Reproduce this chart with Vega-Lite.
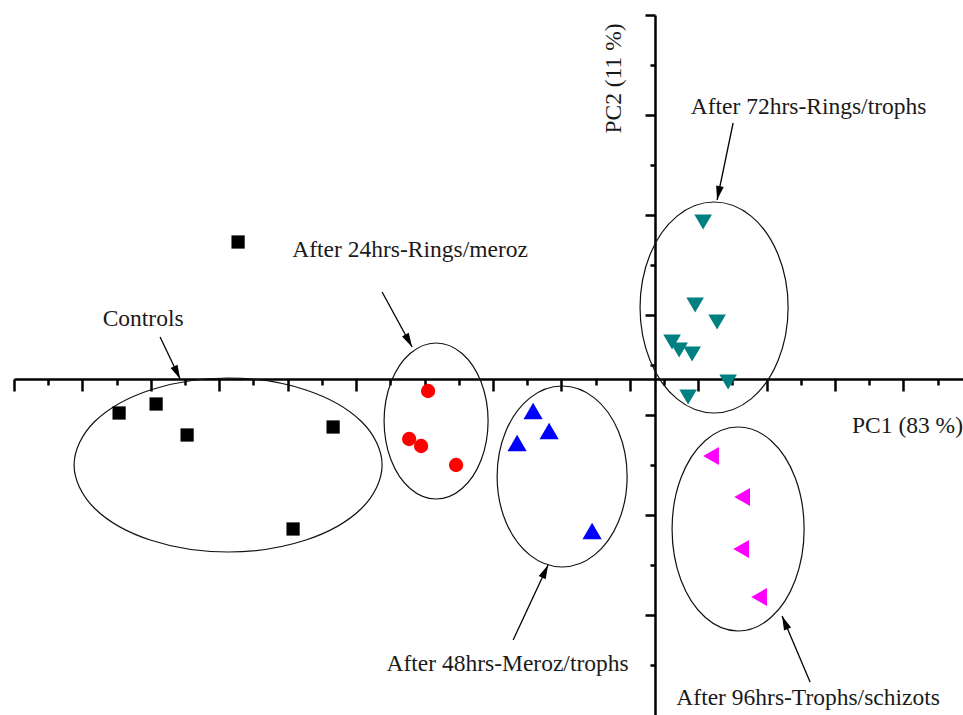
{
  "$schema": "https://vega.github.io/schema/vega-lite/v6.json",
  "width": 949,
  "height": 700,
  "autosize": {"type": "none"},
  "padding": {"left": 14, "top": 15, "right": 0, "bottom": 0},
  "background": "white",
  "config": {"view": {"stroke": null}},
  "datasets": {
    "points": [
      {"group": "Controls", "x": -6.095, "y": 1.37},
      {"group": "Controls", "x": -7.834, "y": -0.34},
      {"group": "Controls", "x": -7.293, "y": -0.25},
      {"group": "Controls", "x": -6.84, "y": -0.56},
      {"group": "Controls", "x": -4.706, "y": -0.48},
      {"group": "Controls", "x": -5.291, "y": -1.5},
      {"group": "24hrs", "x": -3.318, "y": -0.12},
      {"group": "24hrs", "x": -3.595, "y": -0.6},
      {"group": "24hrs", "x": -3.42, "y": -0.67},
      {"group": "24hrs", "x": -2.909, "y": -0.86},
      {"group": "48hrs", "x": -1.783, "y": -0.32},
      {"group": "48hrs", "x": -1.549, "y": -0.52},
      {"group": "48hrs", "x": -2.017, "y": -0.64},
      {"group": "48hrs", "x": -0.921, "y": -1.52},
      {"group": "72hrs", "x": 0.702, "y": 1.57},
      {"group": "72hrs", "x": 0.585, "y": 0.74},
      {"group": "72hrs", "x": 0.906, "y": 0.57},
      {"group": "72hrs", "x": 0.248, "y": 0.37},
      {"group": "72hrs", "x": 0.351, "y": 0.29},
      {"group": "72hrs", "x": 0.541, "y": 0.25},
      {"group": "72hrs", "x": 1.067, "y": -0.03},
      {"group": "72hrs", "x": 0.482, "y": -0.18},
      {"group": "96hrs", "x": 0.818, "y": -0.77},
      {"group": "96hrs", "x": 1.272, "y": -1.18},
      {"group": "96hrs", "x": 1.257, "y": -1.7},
      {"group": "96hrs", "x": 1.52, "y": -2.18}
    ],
    "ellipses": [
      {"grp": "Controls", "i": 0, "x": -3.99, "y": -0.86},
      {"grp": "Controls", "i": 1, "x": -4.292, "y": -0.425},
      {"grp": "Controls", "i": 2, "x": -5.115, "y": -0.107},
      {"grp": "Controls", "i": 3, "x": -6.241, "y": 0.01},
      {"grp": "Controls", "i": 4, "x": -7.367, "y": -0.107},
      {"grp": "Controls", "i": 5, "x": -8.19, "y": -0.425},
      {"grp": "Controls", "i": 6, "x": -8.492, "y": -0.86},
      {"grp": "Controls", "i": 7, "x": -8.19, "y": -1.295},
      {"grp": "Controls", "i": 8, "x": -7.367, "y": -1.613},
      {"grp": "Controls", "i": 9, "x": -6.241, "y": -1.73},
      {"grp": "Controls", "i": 10, "x": -5.115, "y": -1.613},
      {"grp": "Controls", "i": 11, "x": -4.292, "y": -1.295},
      {"grp": "24hrs", "i": 0, "x": -2.441, "y": -0.42},
      {"grp": "24hrs", "i": 1, "x": -2.543, "y": -0.03},
      {"grp": "24hrs", "i": 2, "x": -2.821, "y": 0.255},
      {"grp": "24hrs", "i": 3, "x": -3.201, "y": 0.36},
      {"grp": "24hrs", "i": 4, "x": -3.581, "y": 0.255},
      {"grp": "24hrs", "i": 5, "x": -3.859, "y": -0.03},
      {"grp": "24hrs", "i": 6, "x": -3.961, "y": -0.42},
      {"grp": "24hrs", "i": 7, "x": -3.859, "y": -0.81},
      {"grp": "24hrs", "i": 8, "x": -3.581, "y": -1.095},
      {"grp": "24hrs", "i": 9, "x": -3.201, "y": -1.2},
      {"grp": "24hrs", "i": 10, "x": -2.821, "y": -1.095},
      {"grp": "24hrs", "i": 11, "x": -2.543, "y": -0.81},
      {"grp": "48hrs", "i": 0, "x": -0.409, "y": -0.975},
      {"grp": "48hrs", "i": 1, "x": -0.536, "y": -0.523},
      {"grp": "48hrs", "i": 2, "x": -0.884, "y": -0.191},
      {"grp": "48hrs", "i": 3, "x": -1.359, "y": -0.07},
      {"grp": "48hrs", "i": 4, "x": -1.834, "y": -0.191},
      {"grp": "48hrs", "i": 5, "x": -2.182, "y": -0.523},
      {"grp": "48hrs", "i": 6, "x": -2.309, "y": -0.975},
      {"grp": "48hrs", "i": 7, "x": -2.182, "y": -1.428},
      {"grp": "48hrs", "i": 8, "x": -1.834, "y": -1.759},
      {"grp": "48hrs", "i": 9, "x": -1.359, "y": -1.88},
      {"grp": "48hrs", "i": 10, "x": -0.884, "y": -1.759},
      {"grp": "48hrs", "i": 11, "x": -0.536, "y": -1.428},
      {"grp": "72hrs", "i": 0, "x": 1.944, "y": 0.715},
      {"grp": "72hrs", "i": 1, "x": 1.799, "y": 1.243},
      {"grp": "72hrs", "i": 2, "x": 1.403, "y": 1.629},
      {"grp": "72hrs", "i": 3, "x": 0.862, "y": 1.77},
      {"grp": "72hrs", "i": 4, "x": 0.321, "y": 1.629},
      {"grp": "72hrs", "i": 5, "x": -0.075, "y": 1.243},
      {"grp": "72hrs", "i": 6, "x": -0.22, "y": 0.715},
      {"grp": "72hrs", "i": 7, "x": -0.075, "y": 0.188},
      {"grp": "72hrs", "i": 8, "x": 0.321, "y": -0.199},
      {"grp": "72hrs", "i": 9, "x": 0.862, "y": -0.34},
      {"grp": "72hrs", "i": 10, "x": 1.403, "y": -0.199},
      {"grp": "72hrs", "i": 11, "x": 1.799, "y": 0.188},
      {"grp": "96hrs", "i": 0, "x": 2.178, "y": -1.5},
      {"grp": "96hrs", "i": 1, "x": 2.049, "y": -0.99},
      {"grp": "96hrs", "i": 2, "x": 1.696, "y": -0.617},
      {"grp": "96hrs", "i": 3, "x": 1.213, "y": -0.48},
      {"grp": "96hrs", "i": 4, "x": 0.731, "y": -0.617},
      {"grp": "96hrs", "i": 5, "x": 0.377, "y": -0.99},
      {"grp": "96hrs", "i": 6, "x": 0.248, "y": -1.5},
      {"grp": "96hrs", "i": 7, "x": 0.377, "y": -2.01},
      {"grp": "96hrs", "i": 8, "x": 0.731, "y": -2.383},
      {"grp": "96hrs", "i": 9, "x": 1.213, "y": -2.52},
      {"grp": "96hrs", "i": 10, "x": 1.696, "y": -2.383},
      {"grp": "96hrs", "i": 11, "x": 2.049, "y": -2.01}
    ],
    "arrows": [
      {"grp": "Controls", "xs": -7.235, "ys": 0.42, "x": -6.942, "y": 0.0},
      {"grp": "24hrs", "xs": -3.99, "ys": 0.87, "x": -3.552, "y": 0.32},
      {"grp": "72hrs", "xs": 1.14, "ys": 2.56, "x": 0.906, "y": 1.79},
      {"grp": "48hrs", "xs": -2.075, "ys": -2.61, "x": -1.564, "y": -1.86},
      {"grp": "96hrs", "xs": 2.265, "ys": -3.03, "x": 1.856, "y": -2.37}
    ],
    "labels": [
      {"label": "Controls", "x": -7.483, "y": 0.53},
      {"label": "After 24hrs-Rings/meroz", "x": -3.581, "y": 1.22},
      {"label": "After 72hrs-Rings/trophs", "x": 2.243, "y": 2.65},
      {"label": "After 48hrs-Meroz/trophs", "x": -2.156, "y": -2.92},
      {"label": "After 96hrs-Trophs/schizots", "x": 2.236, "y": -3.26}
    ]
  },
  "encoding": {
    "x": {
      "field": "x",
      "type": "quantitative",
      "scale": {"domain": [-9.37, 4.5], "nice": false, "zero": false},
      "axis": {
        "orient": "bottom",
        "offset": -336,
        "grid": false,
        "labels": false,
        "domainColor": "black",
        "domainWidth": 2.5,
        "tickColor": "black",
        "tickWidth": 2.5,
        "tickSize": {"condition": {"test": "round((datum.value + 9.37) * 2) % 2 === 0", "value": 12}, "value": 6},
        "values": [-9.37, -8.87, -8.37, -7.87, -7.37, -6.87, -6.37, -5.87, -5.37, -4.87, -4.37, -3.87, -3.37, -2.87, -2.37, -1.87, -1.37, -0.87, -0.37, 0.13, 0.63, 1.13, 1.63, 2.13, 2.63, 3.13, 3.63, 4.13],
        "title": "PC1 (83 %)",
        "titleX": 893,
        "titleY": 53,
        "titleAlign": "center",
        "titleBaseline": "alphabetic",
        "titleFont": "Liberation Serif",
        "titleFontSize": 23.5,
        "titleFontWeight": "normal",
        "titleColor": "#1a1a1a"
      }
    },
    "y": {
      "field": "y",
      "type": "quantitative",
      "scale": {"domain": [-3.36, 3.64], "nice": false, "zero": false},
      "axis": {
        "orient": "left",
        "offset": -641,
        "grid": false,
        "labels": false,
        "domainColor": "black",
        "domainWidth": 2.5,
        "tickColor": "black",
        "tickWidth": 2.5,
        "tickSize": {"condition": {"test": "round((3.64 - datum.value) * 2) % 2 === 0", "value": 10}, "value": 5},
        "values": [3.64, 3.14, 2.64, 2.14, 1.64, 1.14, 0.64, 0.14, -0.36, -0.86, -1.36, -1.86, -2.36, -2.86],
        "title": "PC2 (11 %)",
        "titleX": -35,
        "titleY": 63,
        "titleAngle": -90,
        "titleAlign": "center",
        "titleBaseline": "alphabetic",
        "titleFont": "Liberation Serif",
        "titleFontSize": 23.5,
        "titleFontWeight": "normal",
        "titleColor": "#1a1a1a"
      }
    }
  },
  "layer": [
    {
      "data": {"name": "ellipses"},
      "mark": {"type": "line", "interpolate": "cardinal-closed", "color": "#111", "strokeWidth": 1.2},
      "encoding": {
        "detail": {"field": "grp", "type": "nominal"},
        "order": {"field": "i", "type": "quantitative"}
      }
    },
    {
      "data": {"name": "arrows"},
      "mark": {"type": "rule", "color": "black", "strokeWidth": 1.3},
      "encoding": {
        "x2": {"field": "xs"},
        "y2": {"field": "ys"}
      }
    },
    {
      "data": {"name": "arrows"},
      "mark": {
        "type": "point",
        "shape": "M 0 0 L 0.55 2 L -0.55 2 Z",
        "size": 196,
        "filled": true,
        "color": "black",
        "opacity": 1,
        "angle": {"expr": "atan2((datum.x - datum.xs) * 68.42, (datum.y - datum.ys) * 100) * 180 / PI"}
      }
    },
    {
      "data": {"name": "points"},
      "mark": {"type": "point", "filled": true, "opacity": 1, "strokeWidth": 0},
      "encoding": {
        "color": {
          "field": "group", "type": "nominal", "legend": null,
          "scale": {"domain": ["Controls", "24hrs", "48hrs", "72hrs", "96hrs"], "range": ["#000000", "#ff0000", "#0000ff", "#008080", "#ff00ff"]}
        },
        "shape": {
          "field": "group", "type": "nominal", "legend": null,
          "scale": {"domain": ["Controls", "24hrs", "48hrs", "72hrs", "96hrs"], "range": ["square", "circle", "triangle-up", "triangle-down", "triangle-left"]}
        },
        "size": {
          "field": "group", "type": "nominal", "legend": null,
          "scale": {"type": "ordinal", "domain": ["Controls", "24hrs", "48hrs", "72hrs", "96hrs"], "range": [175, 205, 370, 310, 330]}
        }
      }
    },
    {
      "data": {"name": "labels"},
      "mark": {"type": "text", "font": "Liberation Serif", "fontSize": 23.5, "align": "center", "baseline": "alphabetic", "color": "#1a1a1a"},
      "encoding": {
        "text": {"field": "label", "type": "nominal"}
      }
    }
  ]
}
